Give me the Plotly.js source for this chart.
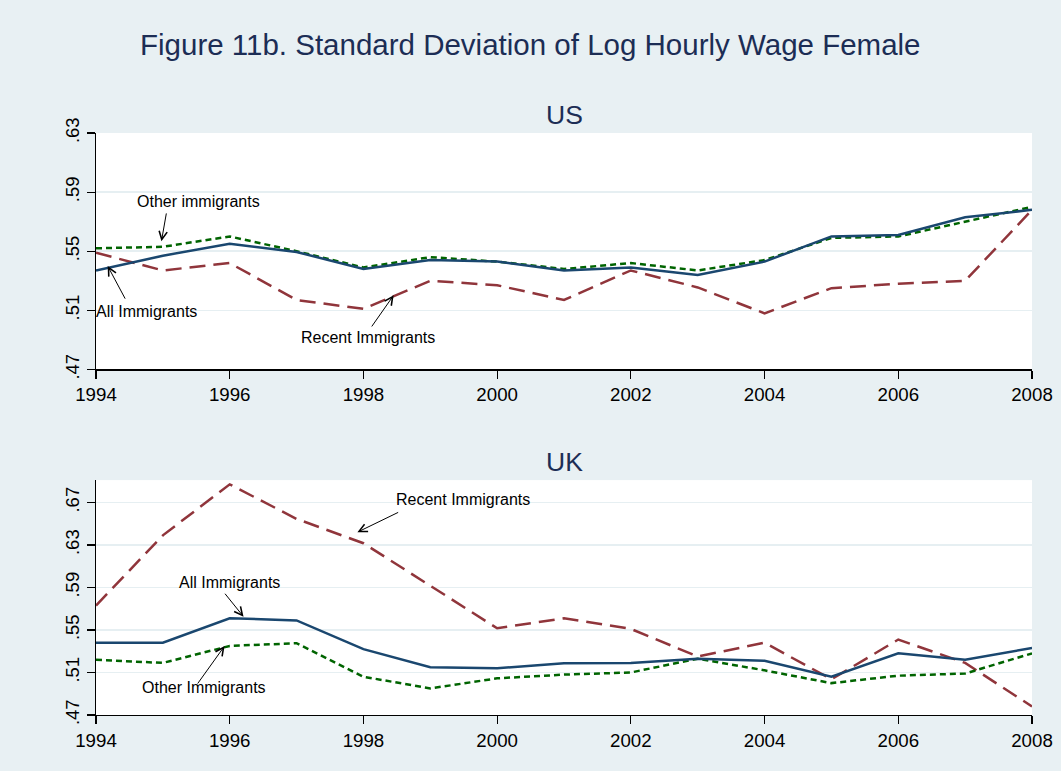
<!DOCTYPE html>
<html>
<head>
<meta charset="utf-8">
<script src="https://cdn.plot.ly/plotly-3.0.1.min.js"></script>
<style>html,body{margin:0;padding:0;background:#e8f0f3;}#chart{width:1061px;height:771px;}</style>
</head>
<body>
<div id="chart"></div>
<script>
// ---- data ----
const years = [1994,1995,1996,1997,1998,1999,2000,2001,2002,2003,2004,2005,2006,2007,2008];

const usAll    = [0.537,0.547,0.555,0.5495,0.538,0.544,0.543,0.537,0.539,0.534,0.543,0.560,0.561,0.573,0.578];
const usOther  = [0.552,0.553,0.560,0.550,0.539,0.546,0.543,0.538,0.542,0.537,0.544,0.559,0.560,0.570,0.580];
const usRecent = [0.549,0.537,0.542,0.517,0.511,0.530,0.527,0.517,0.537,0.5255,0.508,0.525,0.528,0.530,0.578];

const ukAll    = [0.538,0.538,0.561,0.559,0.532,0.515,0.514,0.5187,0.519,0.523,0.521,0.506,0.528,0.522,0.533];
const ukOther  = [0.522,0.519,0.535,0.5375,0.506,0.495,0.5045,0.508,0.510,0.523,0.512,0.500,0.507,0.509,0.528];
const ukRecent = [0.573,0.639,0.687,0.6545,0.6316,0.592,0.5516,0.561,0.551,0.525,0.538,0.5036,0.541,0.519,0.478];

const xTicks = [1994,1996,1998,2000,2002,2004,2006,2008];
const usYTicks = [0.47,0.51,0.55,0.59,0.63];
const usYLabels = ['.47','.51','.55','.59','.63'];
const ukYTicks = [0.47,0.51,0.55,0.59,0.63,0.67];
const ukYLabels = ['.47','.51','.55','.59','.63','.67'];

const titleText = 'Figure 11b. Standard Deviation of Log Hourly Wage Female';

// ---- styles ----
const NAVY = '#1a476f', MAROON = '#90353b', GREEN = '#006400';
const FONT = '"Liberation Sans", Arial, sans-serif';
const TITLECOL = '#1c2d55';

function tr(y, vals, col, dash, xa, ya) {
  return {x: y, y: vals, type: 'scatter', mode: 'lines', xaxis: xa, yaxis: ya,
          line: {color: col, width: 2.5, dash: dash}, hoverinfo: 'skip', showlegend: false};
}
const data = [
  tr(years, usRecent, MAROON, '16px,8px', 'x', 'y'),
  tr(years, usOther, GREEN, '6px,4px', 'x', 'y'),
  tr(years, usAll, NAVY, 'solid', 'x', 'y'),
  tr(years, ukRecent, MAROON, '16px,8px', 'x2', 'y2'),
  tr(years, ukOther, GREEN, '6px,4px', 'x2', 'y2'),
  tr(years, ukAll, NAVY, 'solid', 'x2', 'y2')
];

function xaxis(anchor) {
  return {range: [1994, 2008], anchor: anchor, tickvals: xTicks, ticktext: xTicks.map(String),
    showline: true, linecolor: '#000', linewidth: 1.2, ticks: 'outside', ticklen: 8, tickcolor: '#000',
    tickwidth: 1.2, showgrid: false, zeroline: false, tickfont: {family: FONT, size: 18.7, color: '#000'}};
}
function yaxis(anchor, dom, rng, tv, tt) {
  return {domain: dom, range: rng, anchor: anchor, tickvals: tv, ticktext: tt, tickangle: -90,
    showline: true, linecolor: '#000', linewidth: 1.2, ticks: 'outside', ticklen: 8, tickcolor: '#000',
    tickwidth: 1.2, showgrid: true, gridcolor: '#e6eff2', gridwidth: 1.5, zeroline: false,
    tickfont: {family: FONT, size: 18.5, color: '#000'}};
}

function lbl(text, x, y, xr, yr) {
  return {text: text, x: x, y: y, xref: xr, yref: yr, showarrow: false,
          font: {family: FONT, size: 16, color: '#000'}, xanchor: 'center', yanchor: 'middle'};
}
function arr(x0, y0, x1, y1, xr, yr) {
  return {text: '', x: x1, y: y1, ax: x0, ay: y0, xref: xr, yref: yr, axref: xr, ayref: yr,
          showarrow: true, arrowhead: 5, arrowsize: 1.6, arrowwidth: 1, arrowcolor: '#000', standoff: 0};
}

const annotations = [
  {text: titleText, xref: 'paper', yref: 'paper', x: 0.4645, y: 1.152, xanchor: 'center', yanchor: 'middle',
   showarrow: false, font: {family: FONT, size: 29.5, color: TITLECOL}},
  {text: 'US', xref: 'paper', yref: 'paper', x: 0.5, y: 1.0, yshift: 18, xanchor: 'center', yanchor: 'middle',
   showarrow: false, font: {family: FONT, size: 26.5, color: TITLECOL}},
  {text: 'UK', xref: 'paper', yref: 'paper', x: 0.5, y: 0.4036, yshift: 18, xanchor: 'center', yanchor: 'middle',
   showarrow: false, font: {family: FONT, size: 26.5, color: TITLECOL}},
  // US labels
  lbl('Other immigrants', 1995.54, 0.5839, 'x', 'y'),
  arr(1995.056, 0.5766, 1994.979, 0.5568, 'x', 'y'),
  lbl('All Immigrants', 1994.755, 0.5094, 'x', 'y'),
  arr(1994.448, 0.5169, 1994.175, 0.540, 'x', 'y'),
  lbl('Recent Immigrants', 1998.064, 0.4919, 'x', 'y'),
  arr(1998.109, 0.4981, 1998.452, 0.5202, 'x', 'y'),
  // UK labels
  lbl('Recent Immigrants', 1999.488, 0.6724, 'x2', 'y2'),
  arr(1998.542, 0.6613, 1997.910, 0.6420, 'x2', 'y2'),
  lbl('All Immigrants', 1996.002, 0.5945, 'x2', 'y2'),
  arr(1995.912, 0.5855, 1996.207, 0.5625, 'x2', 'y2'),
  lbl('Other Immigrants', 1995.621, 0.4957, 'x2', 'y2'),
  arr(1995.505, 0.4982, 1995.923, 0.5349, 'x2', 'y2')
];

const layout = {
  width: 1061, height: 771,
  margin: {l: 96, r: 29, t: 133, b: 56},
  paper_bgcolor: '#e8f0f3', plot_bgcolor: '#ffffff',
  showlegend: false,
  xaxis: xaxis('y'),
  yaxis: yaxis('x', [0.5937, 1], [0.47, 0.63], usYTicks, usYLabels),
  xaxis2: xaxis('y2'),
  yaxis2: yaxis('x2', [0, 0.4036], [0.47, 0.691], ukYTicks, ukYLabels),
  annotations: annotations
};

Plotly.newPlot('chart', data, layout, {displayModeBar: false, staticPlot: true});
</script>
</body>
</html>
